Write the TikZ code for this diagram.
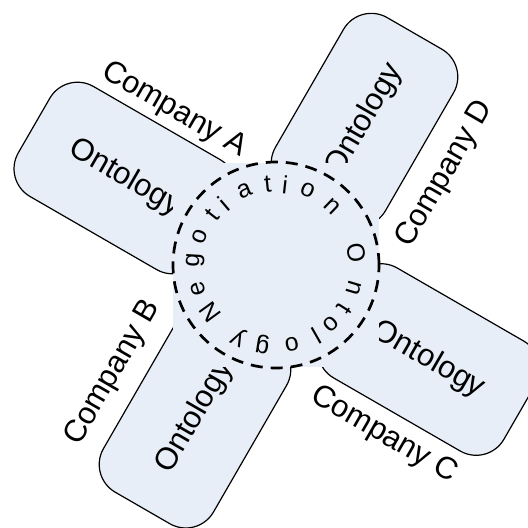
\documentclass[tikz,border=0pt]{standalone}
\usepackage{fontspec}
\setmainfont{Liberation Sans}
\usetikzlibrary{positioning}
\definecolor{ontofill}{RGB}{232,238,247}

\begin{document}
\begin{tikzpicture}[x=0.5pt,y=0.5pt,
  onto/.style={draw,line width=0.6pt,fill=ontofill,rounded corners=16pt,
    minimum width=105pt,minimum height=63.5pt,inner sep=0pt,
    font=\fontsize{15.5}{18}\selectfont},
  comp/.style={inner sep=0pt,font=\fontsize{15.5}{18}\selectfont},
  ringletter/.style={inner sep=0pt,font=\fontsize{12.5}{14}\selectfont}]
\useasboundingbox (0,0) rectangle (528,527);
\clip (0,0) rectangle (528,527);
\coordinate (ctr) at (276,262);
% the four company ontologies
\node[onto,rotate=-30] (ontA) at (125,349) {Ontology};
\node[onto,rotate=60,minimum width=100pt] (ontD) at (364.5,407) {Ontology};
\node[onto,rotate=-30] (ontC) at (428.7,167.5) {Ontology};
\node[onto,rotate=60] (ontB) at (195,110) {Ontology};
\node[comp,rotate=-30] (compA) at (174,417) {Company A};
\node[comp,rotate=60] (compD) at (445,353) {Company D};
\node[comp,rotate=60] (compB) at (113,154) {Company B};
\node[comp,rotate=-30] (compC) at (384,92) {Company C};
% negotiation ontology in the middle
\node[fill=ontofill,inner sep=0pt,minimum width=103pt,minimum height=102pt] (negbox) at (ctr) {};
\node[circle,draw,line width=1.35pt,dash pattern=on 6pt off 4pt,inner sep=0pt,minimum size=103pt] (negring) at (ctr) {};
\foreach \ch/\ang in {N/216,e/197,g/176.6,o/159.3,t/141.8,i/130.4,a/113,t/95.9,i/83.6,o/67,n/46,
  O/8.6,n/-16.6,t/-32.7,o/-47,l/-60.3,o/-78.7,g/-99.5,y/-117.5}
  \node[ringletter,rotate=\ang-90] at ([shift={(\ang:81)}]ctr) {\ch};
\end{tikzpicture}
\end{document}
